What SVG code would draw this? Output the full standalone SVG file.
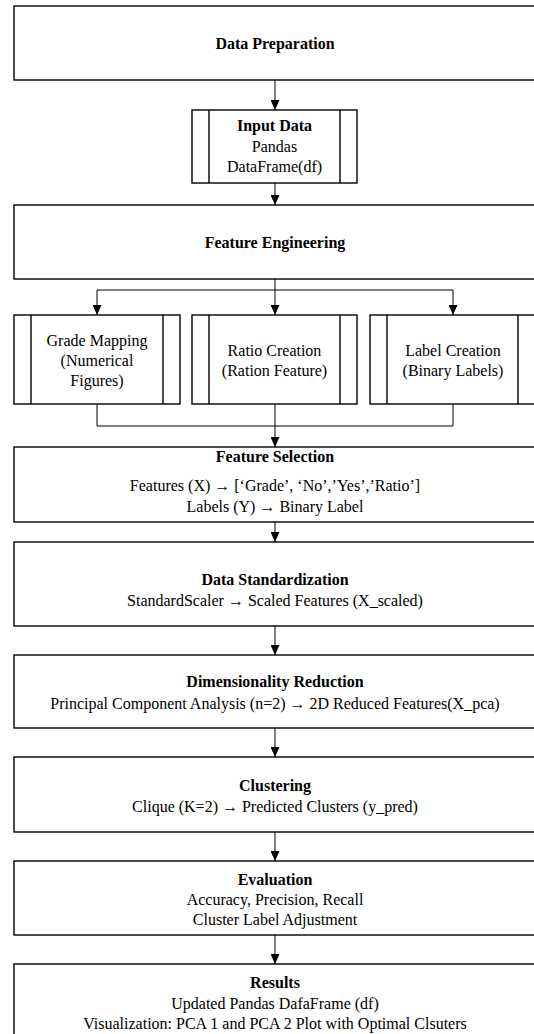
<svg xmlns="http://www.w3.org/2000/svg" width="534" height="1034" viewBox="0 0 534 1034">
<defs>
<marker id="arr" markerUnits="userSpaceOnUse" markerWidth="10" markerHeight="9" viewBox="0 0 10 9" refX="10" refY="4.5" orient="auto">
<path d="M0,0 L10,4.5 L0,9 z" fill="#000"/>
</marker>
<style>
.box{fill:#fff;stroke:#000;stroke-width:1.4}
.inl{stroke:#000;stroke-width:1.4;fill:none}
.con{stroke:#000;stroke-width:1;fill:none}
text{font-family:"Liberation Serif","DejaVu Serif",serif;font-size:16px;font-weight:400;fill:#000;text-anchor:middle}
.b{font-weight:700}
.ar{font-weight:700}
</style>
</defs>
<rect width="534" height="1034" fill="#fff"/>
<g id="connectors">
<line class="con" x1="275" y1="80" x2="275" y2="110" marker-end="url(#arr)"/>
<line class="con" x1="275" y1="183" x2="275" y2="205" marker-end="url(#arr)"/>
<path class="con" d="M275,279 V290 M97,290 H453"/>
<line class="con" x1="97" y1="290" x2="97" y2="315" marker-end="url(#arr)"/>
<line class="con" x1="275" y1="290" x2="275" y2="315" marker-end="url(#arr)"/>
<line class="con" x1="453" y1="290" x2="453" y2="315" marker-end="url(#arr)"/>
<path class="con" d="M97,404 V426 H453 V404"/>
<line class="con" x1="275" y1="404" x2="275" y2="447" marker-end="url(#arr)"/>
<line class="con" x1="275" y1="522" x2="275" y2="542" marker-end="url(#arr)"/>
<line class="con" x1="275" y1="626" x2="275" y2="655" marker-end="url(#arr)"/>
<line class="con" x1="275" y1="728" x2="275" y2="757" marker-end="url(#arr)"/>
<line class="con" x1="275" y1="832" x2="275" y2="861" marker-end="url(#arr)"/>
<line class="con" x1="275" y1="935" x2="275" y2="964" marker-end="url(#arr)"/>
</g>
<g id="data-preparation">
<rect class="box" x="14" y="6" width="524" height="74"/>
<text class="b" x="275" y="48.5">Data Preparation</text>
</g>
<g id="input-data">
<rect class="box" x="192" y="110" width="165" height="73"/>
<line class="inl" x1="209" y1="110" x2="209" y2="183"/>
<line class="inl" x1="340" y1="110" x2="340" y2="183"/>
<text class="b" x="274.5" y="130.5">Input Data</text>
<text x="274.5" y="152">Pandas</text>
<text x="274.5" y="172">DataFrame(df)</text>
</g>
<g id="feature-engineering">
<rect class="box" x="14" y="205" width="524" height="74"/>
<text class="b" x="275" y="247.5">Feature Engineering</text>
</g>
<g id="grade-mapping">
<rect class="box" x="14" y="315" width="166" height="89"/>
<line class="inl" x1="31" y1="315" x2="31" y2="404"/>
<line class="inl" x1="163" y1="315" x2="163" y2="404"/>
<text x="97" y="345.5">Grade Mapping</text>
<text x="97" y="365.5">(Numerical</text>
<text x="97" y="385.5">Figures)</text>
</g>
<g id="ratio-creation">
<rect class="box" x="192" y="315" width="165" height="89"/>
<line class="inl" x1="209" y1="315" x2="209" y2="404"/>
<line class="inl" x1="340" y1="315" x2="340" y2="404"/>
<text x="274.5" y="355.5">Ratio Creation</text>
<text x="274.5" y="375.5">(Ration Feature)</text>
</g>
<g id="label-creation">
<rect class="box" x="370" y="315" width="166" height="89"/>
<line class="inl" x1="387" y1="315" x2="387" y2="404"/>
<line class="inl" x1="518" y1="315" x2="518" y2="404"/>
<text x="453" y="355.5">Label Creation</text>
<text x="453" y="375.5">(Binary Labels)</text>
</g>
<g id="feature-selection">
<rect class="box" x="14" y="447" width="524" height="75"/>
<text class="b" x="275" y="462">Feature Selection</text>
<text x="275" y="491">Features (X) <tspan class="ar">→</tspan> [‘Grade’, ‘No’,’Yes’,’Ratio’]</text>
<text x="275" y="512">Labels (Y) <tspan class="ar">→</tspan> Binary Label</text>
</g>
<g id="data-standardization">
<rect class="box" x="14" y="542" width="524" height="84"/>
<text class="b" x="275" y="584.5">Data Standardization</text>
<text x="275" y="606">StandardScaler <tspan class="ar">→</tspan> Scaled Features (X_scaled)</text>
</g>
<g id="dimensionality-reduction">
<rect class="box" x="14" y="655" width="524" height="73"/>
<text class="b" x="275" y="687">Dimensionality Reduction</text>
<text x="275" y="708.5">Principal Component Analysis (n=2) <tspan class="ar">→</tspan> 2D Reduced Features(X_pca)</text>
</g>
<g id="clustering">
<rect class="box" x="14" y="757" width="524" height="75"/>
<text class="b" x="275" y="791">Clustering</text>
<text x="275" y="812">Clique (K=2) <tspan class="ar">→</tspan> Predicted Clusters (y_pred)</text>
</g>
<g id="evaluation">
<rect class="box" x="14" y="861" width="524" height="74"/>
<text class="b" x="275" y="884.5">Evaluation</text>
<text x="275" y="904.5">Accuracy, Precision, Recall</text>
<text x="275" y="924.5">Cluster Label Adjustment</text>
</g>
<g id="results">
<rect class="box" x="14" y="964" width="524" height="80"/>
<text class="b" x="275" y="988">Results</text>
<text x="275" y="1008.5">Updated Pandas DafaFrame (df)</text>
<text x="275" y="1028.5">Visualization: PCA 1 and PCA 2 Plot with Optimal Clsuters</text>
</g>
</svg>
